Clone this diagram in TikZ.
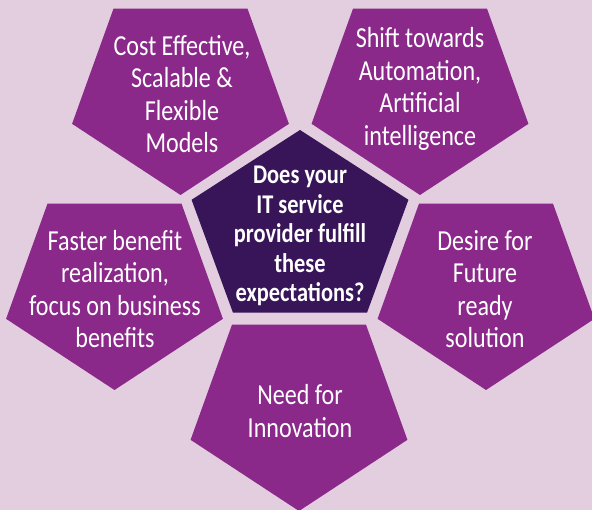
\documentclass[tikz,border=0pt]{standalone}
\usepackage{fontspec}
\setmainfont[FakeStretch=0.83]{Carlito}
\definecolor{bgpink}{RGB}{226,206,222}
\definecolor{plum}{RGB}{139,41,139}
\definecolor{darkplum}{RGB}{56,20,88}
\tikzset{
  pentext/.style={text=white,align=center,inner sep=0pt,font=\fontsize{29}{32.5}\selectfont},
  asktext/.style={text=white,align=center,inner sep=0pt,font=\bfseries\fontsize{27}{29.5}\selectfont}
}
\begin{document}
\begin{tikzpicture}[x=1pt,y=-1pt]
\def\rx{114} \def\ry{103}
\fill[bgpink] (0,0) rectangle (592,510);
\useasboundingbox (0,0) rectangle (592,510);
\foreach \cx/\cy in {180.5/92,420/92,114.5/287,486/287,299/408}
  \fill[plum,shift={(\cx,\cy)}] (90:{\rx} and {\ry}) -- (162:{\rx} and {\ry}) -- (234:{\rx} and {\ry}) -- (306:{\rx} and {\ry}) -- (18:{\rx} and {\ry}) -- cycle;
\fill[darkplum,shift={(300,231)}] (-90:{\rx} and 101) -- (-18:{\rx} and 101) -- (54:{\rx} and 101) -- (126:{\rx} and 101) -- (198:{\rx} and 101) -- cycle;

\node[pentext] (cost) at (182,94) {Cost Effective,\\Scalable \&\\Flexible\\Models};
\node[pentext] (shift) at (420,89) {Shift towards\\Automation,\\Artificial\\intelligence};
\node[pentext] (faster) at (115,289) {Faster benefit\\realization,\\focus on business\\benefits};
\node[pentext] (desire) at (485,289) {Desire for\\Future\\ready\\solution};
\node[pentext] (need) at (300,411) {Need for\\Innovation};
\node[asktext] (ask) at (300,236) {Does your\\IT service\\provider fulfill\\these\\expectations?};
\end{tikzpicture}
\end{document}
